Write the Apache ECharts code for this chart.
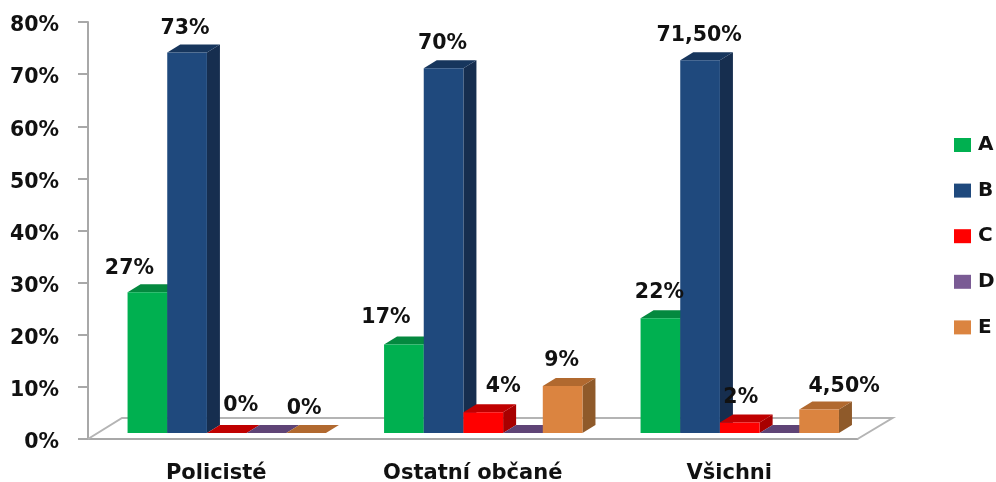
<!DOCTYPE html>
<html>
<head>
<meta charset="utf-8">
<style>html,body{margin:0;padding:0;background:#fff}#c{width:996px;height:482px}</style>
<script src="https://cdn.jsdelivr.net/npm/echarts@6/dist/echarts.min.js"></script>
</head>
<body>
<div id="c"></div>
<script>
const categories = ['Policisté', 'Ostatní občané', 'Všichni'];
const seriesNames = ['A', 'B', 'C', 'D', 'E'];
const valuesA = [27, 17, 22];
const valuesB = [73, 70, 71.5];
const valuesC = [0, 4, 2];
const valuesD = [0, 0, 0];
const valuesE = [0, 9, 4.5];
const labelsA = ['27%', '17%', '22%'];
const labelsB = ['73%', '70%', '71,50%'];
const labelsC = ['0%', '4%', '2%'];
const labelsD = ['', '', ''];
const labelsE = ['0%', '9%', '4,50%'];

const allValues = [valuesA, valuesB, valuesC, valuesD, valuesE];
const allLabels = [labelsA, labelsB, labelsC, labelsD, labelsE];
const faces = [
  { front: '#00B050', top: '#04893F', side: '#04703A' },
  { front: '#1F497D', top: '#17365D', side: '#162E4F' },
  { front: '#FF0000', top: '#C00000', side: '#A80000' },
  { front: '#7A5B94', top: '#5F4476', side: '#4E3862' },
  { front: '#DB8440', top: '#B1692F', side: '#8F5A2A' }
];
// hand placement of the data labels, as in the source chart (px from bar top centre)
const labelNudgeX = [[-18, -18, -1], [-2, -1, -1], [14, 20, 1], [0, 0, 0], [-2, -1, 25]];
const labelNudgeY = [[-24, -27, -26], [-24, -24, -25], [-27, -25, -25], [0, 0, 0], [-24, -25, -23]];

const fontFamily = '"DejaVu Sans", sans-serif';
const textFont = 'bold 20.5px ' + fontFamily;
const DX = 13, DY = 8, LIFT = 6;

function barRender(si) {
  return function (params, api) {
    const c = api.value(0), v = api.value(1);
    const band = api.size([1, 0])[0];
    const w = band * 0.1547;
    const base = api.coord([c, 0]);
    const top = api.coord([c, v]);
    const x0 = base[0] + band * 0.041 - 2.5 * w + si * w;
    const x1 = x0 + w;
    const yb = base[1] - LIFT;
    const yt = top[1] - LIFT;
    const f = faces[si];
    const poly = (pts, fill) => ({ type: 'polygon', shape: { points: pts }, style: { fill: fill } });
    const kids = [
      poly([[x1, yb], [x1 + DX, yb - DY], [x1 + DX, yt - DY], [x1, yt]], f.side),
      poly([[x0, yt], [x0 + DX, yt - DY], [x1 + DX, yt - DY], [x1, yt]], f.top),
      poly([[x0, yb], [x1, yb], [x1, yt], [x0, yt]], f.front)
    ];
    const txt = allLabels[si][c];
    if (txt) {
      kids.push({
        type: 'text', z2: 100,
        style: {
          text: txt, x: (x0 + x1) / 2 + labelNudgeX[si][c], y: yt + labelNudgeY[si][c],
          align: 'center', verticalAlign: 'middle', font: textFont, fill: '#111'
        }
      });
    }
    return { type: 'group', children: kids };
  };
}

function floorRender(params, api) {
  const r = params.coordSys;
  const yf = r.y + r.height, xl = r.x, xr = r.x + r.width;
  return {
    type: 'polyline',
    shape: { points: [[xl, yf], [xl + 34, yf - 21], [xr + 35, yf - 21], [xr, yf]] },
    style: { fill: null, stroke: '#B4B4B4', lineWidth: 2 }
  };
}

const series = [{
  type: 'custom', renderItem: floorRender, silent: true, data: [[0, 0]],
  encode: { x: 0, y: 1 }, z: 1
}].concat(seriesNames.map((n, si) => ({
  name: n, type: 'custom', renderItem: barRender(si),
  itemStyle: { color: faces[si].front },
  encode: { x: 0, y: 1 }, z: 2,
  data: allValues[si].map((v, i) => [i, v])
})));

const chart = echarts.init(document.getElementById('c'), null, { renderer: 'canvas' });
chart.setOption({
  animation: false,
  backgroundColor: '#fff',
  grid: { left: 88, right: 138.5, top: 22, bottom: 43, containLabel: false, outerBoundsMode: 'none' },
  legend: {
    orient: 'vertical', left: 954, top: 132, padding: 0, icon: 'rect',
    itemWidth: 17, itemHeight: 14, itemGap: 19.6,
    data: seriesNames,
    textStyle: { fontFamily: fontFamily, fontSize: 20, fontWeight: 'bold', color: '#111', lineHeight: 26, padding: [0, 0, 0, 2] }
  },
  xAxis: {
    type: 'category', data: categories,
    axisLine: { lineStyle: { color: '#A8A8A8', width: 2 } },
    axisTick: { alignWithLabel: false, length: 9, lineStyle: { color: '#A8A8A8', width: 2 } },
    axisLabel: { fontFamily: fontFamily, fontSize: 21, fontWeight: 'bold', color: '#111', margin: 24 }
  },
  yAxis: {
    type: 'value', min: 0, max: 80, interval: 10,
    splitLine: { show: false },
    axisLine: { show: true, lineStyle: { color: '#A8A8A8', width: 2 } },
    axisTick: { show: true, length: 10, lineStyle: { color: '#A8A8A8', width: 2 } },
    axisLabel: { formatter: '{value}%', fontFamily: fontFamily, fontSize: 20.5, fontWeight: 'bold', color: '#111', margin: 29, verticalAlign: 'top', lineHeight: 8 }
  },
  series: series
});
</script>
</body>
</html>
